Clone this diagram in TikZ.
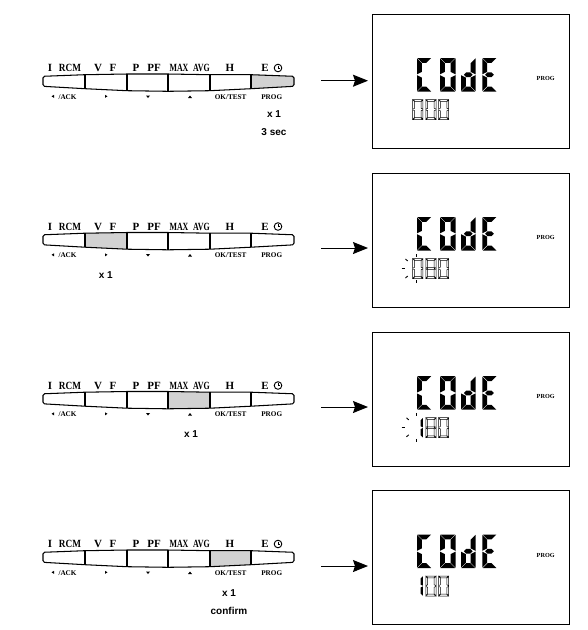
\documentclass[tikz,border=0pt]{standalone}
\usepackage{fontspec}
\setmainfont{Liberation Serif}
\newfontfamily\capsans{Liberation Sans}
\usetikzlibrary{arrows.meta}
\definecolor{keygray}{HTML}{D2D2D2}
\tikzset{
  x=1pt,y=-1pt,
  barline/.style={draw=black,line width=1.05pt,rounded corners=1.6pt},
  divider/.style={draw=black,line width=1.4pt},
  toplabel/.style={anchor=base,inner sep=0pt,font=\fontsize{11}{11}\selectfont\bfseries},
  sublabel/.style={anchor=base,inner sep=0pt,font=\fontsize{7.2}{8}\selectfont\bfseries},
  caption/.style={inner sep=0pt,font=\capsans\fontsize{10}{11}\selectfont\bfseries},
  display/.style={draw=black,line width=1pt,minimum width=197pt,minimum height=134pt,inner sep=0pt,anchor=north west},
  proglabel/.style={inner sep=0pt,font=\fontsize{6.2}{7}\selectfont\bfseries},
  bigseg/.style={fill=black},
  dimseg/.style={draw=black,fill=white,line width=0.5pt},
  litseg/.style={fill=black},
  flow/.style={draw=black,line width=1pt,-{Stealth[length=15pt,width=12pt,inset=2pt]}},
  ray/.style={draw=black,line width=0.9pt},
}
% seven-segment glyph: x, y, w, h, thickness, gap, style, segments
\newcommand{\segA}{(\sG,0)--(\sW-\sG,0)--(\sW-\sG-\sT,\sT)--(\sG+\sT,\sT)--cycle}
\newcommand{\segD}{(\sG,\sH)--(\sW-\sG,\sH)--(\sW-\sG-\sT,\sH-\sT)--(\sG+\sT,\sH-\sT)--cycle}
\newcommand{\segG}{(\sG+\sT/2,\sM)--(\sG+\sT,\sM-\sT/2)--(\sW-\sG-\sT,\sM-\sT/2)--(\sW-\sG-\sT/2,\sM)--(\sW-\sG-\sT,\sM+\sT/2)--(\sG+\sT,\sM+\sT/2)--cycle}
\newcommand{\segF}{(0,\sG)--(\sT,\sG+\sT)--(\sT,\sM-\sG-\sT/2)--(0,\sM-\sG)--cycle}
\newcommand{\segE}{(0,\sM+\sG)--(\sT,\sM+\sG+\sT/2)--(\sT,\sH-\sG-\sT)--(0,\sH-\sG)--cycle}
\newcommand{\segB}{(\sW,\sG)--(\sW-\sT,\sG+\sT)--(\sW-\sT,\sM-\sG-\sT/2)--(\sW,\sM-\sG)--cycle}
\newcommand{\segC}{(\sW,\sM+\sG)--(\sW-\sT,\sM+\sG+\sT/2)--(\sW-\sT,\sH-\sG-\sT)--(\sW,\sH-\sG)--cycle}
\newcommand{\sevenseg}[8]{%
  \begin{scope}[shift={(#1,#2)}]
    \def\sW{#3}\def\sH{#4}\def\sT{#5}\def\sG{#6}
    \pgfmathsetmacro\sM{#4/2}
    \foreach \s in {#8}{\path[#7] \s;}
  \end{scope}}
\newcommand{\bigword}[1]{%
  \pgfmathsetmacro\wy{#1+44.5}
  \sevenseg{417}{\wy}{14.5}{33.5}{4.8}{0.45}{bigseg}{\segA,\segF,\segE,\segD}
  \sevenseg{440}{\wy}{15.5}{33.5}{4.8}{0.45}{bigseg}{\segA,\segF,\segE,\segB,\segC,\segD}
  \sevenseg{461}{\wy}{14.5}{33.5}{4.8}{0.45}{bigseg}{\segB,\segC,\segD,\segE,\segG}
  \sevenseg{482.3}{\wy}{14.5}{33.5}{4.8}{0.45}{bigseg}{\segA,\segF,\segG,\segE,\segD}}
\newcommand{\zerodigit}[3]{\sevenseg{#1}{#2}{10.2}{20}{1.9}{0.3}{#3}{\segA,\segB,\segC,\segD,\segE,\segF}}
\newcommand{\eightdigit}[3]{\sevenseg{#1}{#2}{10.2}{20}{1.9}{0.3}{#3}{\segA,\segB,\segC,\segD,\segE,\segF,\segG}}
\newcommand{\onedigit}[3]{\sevenseg{#1}{#2}{10.2}{20}{2.4}{0.3}{#3}{\segB,\segC}}
% button bar: top, prefix, first edge of the shaded key
\newcommand{\buttonbar}[3]{%
  \begin{scope}[shift={(0,#1)},name prefix=#2-]
    \coordinate (T0) at (43,2.3);  \coordinate (B0) at (43,12.3);
    \coordinate (T1) at (85,0.7);  \coordinate (B1) at (85,14.7);
    \coordinate (T2) at (127,0);   \coordinate (B2) at (127,16.7);
    \coordinate (T3) at (168,0);   \coordinate (B3) at (168,17.3);
    \coordinate (T4) at (210,0.7); \coordinate (B4) at (210,16.7);
    \coordinate (T5) at (251,0.7); \coordinate (B5) at (251,14.7);
    \coordinate (T6) at (294,2.3); \coordinate (B6) at (294,12.3);
    \fill[keygray] (T#3)--(T\the\numexpr#3+1\relax)--(B\the\numexpr#3+1\relax)--(B#3)--cycle;
    \draw[barline] (T0)--(T1)--(T2)--(T3)--(T4)--(T5)--(T6)--(B6)--(B5)--(B4)--(B3)--(B2)--(B1)--(B0)--cycle;
    \foreach \d in {1,...,5}{\draw[divider] (T\d)--(B\d);}
    \node[toplabel] (i)   at (50,-2.5) {I};
    \node[toplabel] (rcm) at (70,-2.5) {\scalebox{0.84}[1]{RCM}};
    \node[toplabel] (v)   at (98,-2.5) {V};
    \node[toplabel] (f)   at (113,-2.5) {F};
    \node[toplabel] (p)   at (136,-2.5) {P};
    \node[toplabel] (pf)  at (154,-2.5) {PF};
    \node[toplabel] (max) at (179,-2.5) {\scalebox{0.72}[1]{MAX}};
    \node[toplabel] (avg) at (201.5,-2.5) {\scalebox{0.72}[1]{AVG}};
    \node[toplabel] (h)   at (230,-2.5) {H};
    \node[toplabel] (e)   at (265,-2.5) {E};
    \draw[black,line width=0.9pt] (278,-6) circle (3.8);
    \draw[black,line width=0.7pt] (278,-8.4) -- (278,-6) -- (280.2,-6);
    \fill (51.5,22.3)--(54,20.8)--(54,23.8)--cycle;
    \node[sublabel] (ack)  at (67.5,25) {/ACK};
    \fill (105,20.8)--(107.5,22.3)--(105,23.8)--cycle;
    \fill (146,21.5)--(150,21.5)--(148,24)--cycle;
    \fill (188,24)--(192,24)--(190,21.5)--cycle;
    \node[sublabel] (ok)   at (230.7,25) {OK/TEST};
    \node[sublabel] (prog) at (271.7,25) {PROG};
  \end{scope}}
\newcommand{\flowarrow}[2]{%
  \coordinate (#1from) at (321,#2);
  \coordinate (#1to) at (368,#2);
  \draw[flow] (#1from) -- (#1to);}
\newcommand{\rays}[2]{%
  \draw[ray] (416.5,#2-14.5) -- (416.5,#2-11.5);
  \draw[ray] (416.5,#2+11.5) -- (416.5,#2+14.5);
  \draw[ray] (401.5,#2) -- (405,#2);
  \draw[ray] (#1,#2-9.5) -- (#1+2.2,#2-7.5);
  \draw[ray] (#1,#2+9.5) -- (#1+2.2,#2+7.5);}
\begin{document}
\begin{tikzpicture}
\useasboundingbox (0,0) rectangle (588,630);
\fill[white] (0,0) rectangle (588,630);

% row 1
\buttonbar{74}{r1}{5}
\flowarrow{a1}{80.7}
\node[display] (d1) at (371.7,13.5) {};
\bigword{13.5}
\node[proglabel] (d1p) at (545.7,78.7) {PROG};
\zerodigit{412.7}{99.5}{dimseg}
\zerodigit{425.8}{99.5}{dimseg}
\zerodigit{438.5}{99.5}{dimseg}
\node[caption] (c1a) at (274,114.5) {x 1};
\node[caption] (c1b) at (274,132) {3 sec};

% row 2
\buttonbar{232.5}{r2}{1}
\flowarrow{a2}{248}
\node[display] (d2) at (371.7,172.5) {};
\bigword{172.5}
\node[proglabel] (d2p) at (545.7,237.5) {PROG};
\zerodigit{412.7}{258.5}{dimseg}
\eightdigit{425.8}{258.5}{dimseg}
\zerodigit{438.5}{258.5}{dimseg}
\rays{405.5}{268.5}
\node[caption] (c2a) at (105.7,275.5) {x 1};

% row 3
\buttonbar{391.5}{r3}{3}
\flowarrow{a3}{407}
\node[display] (d3) at (371.7,331.7) {};
\bigword{331.7}
\node[proglabel] (d3p) at (545.7,396.7) {PROG};
\onedigit{412.7}{417.7}{litseg}
\eightdigit{425.8}{417.7}{dimseg}
\zerodigit{438.5}{417.7}{dimseg}
\rays{406.5}{427.3}
\node[caption] (c3a) at (191,434.5) {x 1};

% row 4
\buttonbar{550}{r4}{4}
\flowarrow{a4}{566}
\node[display] (d4) at (371.7,490) {};
\bigword{490}
\node[proglabel] (d4p) at (545.7,555) {PROG};
\onedigit{412.7}{576}{litseg}
\zerodigit{425.8}{576}{dimseg}
\zerodigit{438.5}{576}{dimseg}
\node[caption] (c4a) at (229,593.5) {x 1};
\node[caption] (c4b) at (229,611) {confirm};
\end{tikzpicture}
\end{document}
